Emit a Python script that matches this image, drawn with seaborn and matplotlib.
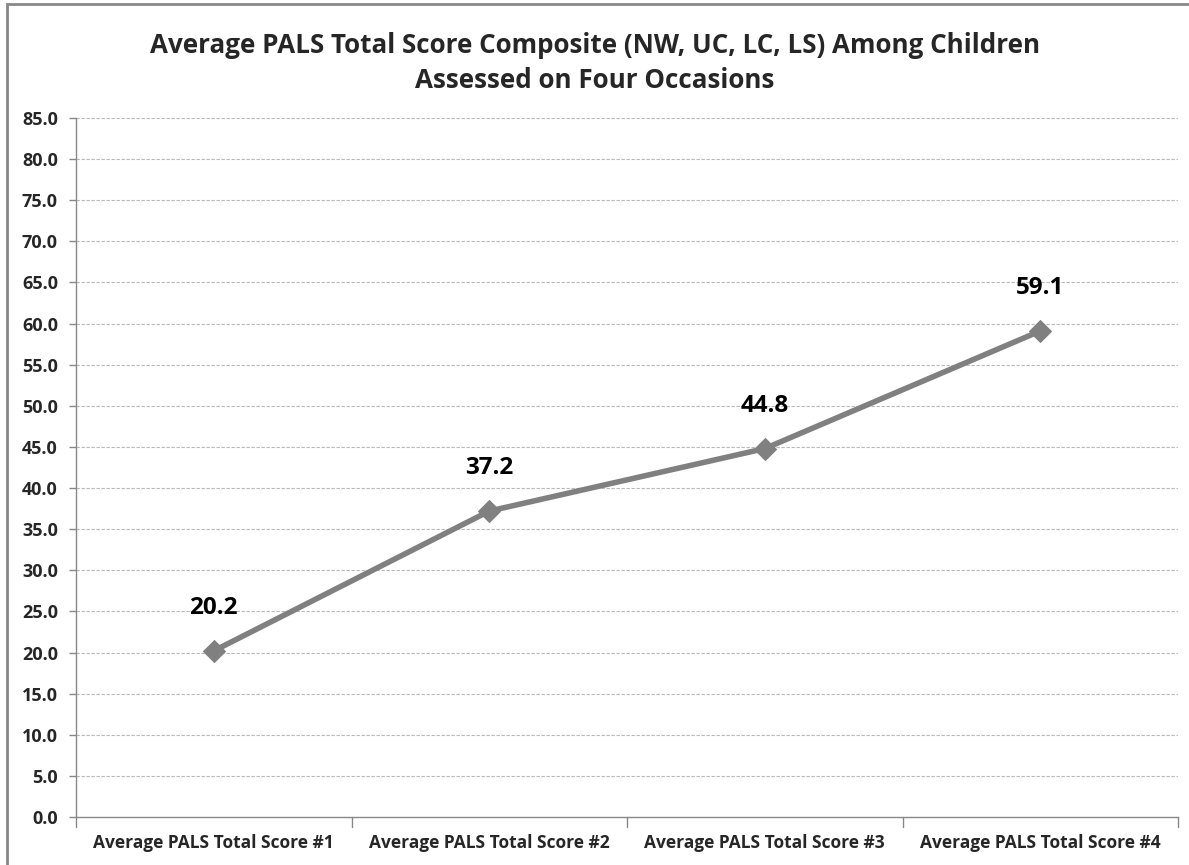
import matplotlib
matplotlib.use("Agg")
import matplotlib.pyplot as plt
import seaborn as sns
import pandas as pd
from matplotlib.patches import Rectangle

# Average composite score per assessment occasion
occasions = ["Average PALS Total Score #1", "Average PALS Total Score #2",
             "Average PALS Total Score #3", "Average PALS Total Score #4"]
scores = [20.2, 37.2, 44.8, 59.1]
y_ticks = [0, 5, 10, 15, 20, 25, 30, 35, 40, 45, 50, 55, 60, 65, 70, 75, 80, 85]

sns.set_style("white")
plt.rcParams["font.family"] = ["Open Sans", "DejaVu Sans"]

df = pd.DataFrame({"pos": range(len(occasions)), "score": scores})

W, H = 1189, 865
fig = plt.figure(figsize=(W / 100, H / 100), dpi=100)
ax = fig.add_axes([76 / W, 1 - 817 / H, (1178 - 76) / W, (817 - 118) / H])

# Horizontal dashed gridlines
for t in y_ticks[1:]:
    ax.axhline(t, color="#b8b8b8", lw=0.8, ls=(0, (3, 1.5)), zorder=0)

sns.lineplot(data=df, x="pos", y="score", ax=ax, color="#808080", lw=4,
             marker="D", markersize=11, markeredgecolor="#808080",
             markerfacecolor="#808080", zorder=3)

for i, v in enumerate(scores):
    ax.annotate(f"{v:.1f}", (i, v), xytext=(0, 31), textcoords="offset points",
                ha="center", va="center", fontsize=17.5, fontweight="bold",
                color="black")

ax.set_xlim(-0.5, len(occasions) - 0.5)
ax.set_ylim(0, 85)
ax.set_yticks(y_ticks)
ax.set_yticklabels([f"{t:.1f}" for t in y_ticks], fontsize=13, fontweight="bold")
ax.set_xticks(range(len(occasions)))
ax.set_xticklabels(occasions, fontsize=12.5, fontweight="bold")
ax.tick_params(axis="x", length=0, pad=12)
ax.tick_params(axis="y", length=5, width=1, color="#888888", pad=8, left=True)

# Category boundary ticks on the x axis
for b in [-0.5, 0.5, 1.5, 2.5, 3.5]:
    ax.plot([b, b], [0, -1.2], color="#888888", lw=1, clip_on=False)

for side in ["top", "right"]:
    ax.spines[side].set_visible(False)
for side in ["left", "bottom"]:
    ax.spines[side].set_color("#888888")
    ax.spines[side].set_linewidth(1)
ax.set_xlabel("")
ax.set_ylabel("")

fig.text(595 / W, 1 - 63 / H,
         "Average PALS Total Score Composite (NW, UC, LC, LS) Among Children\nAssessed on Four Occasions",
         ha="center", va="center", fontsize=18.7, fontweight="bold", linespacing=1.35)

# Chart-area border
fig.patches.append(Rectangle((7 / W, -0.1), 1.2, 1 - 4 / H + 0.1,
                             transform=fig.transFigure, fill=False,
                             edgecolor="#888888", lw=2))

fig.savefig("out.png", dpi=100)
